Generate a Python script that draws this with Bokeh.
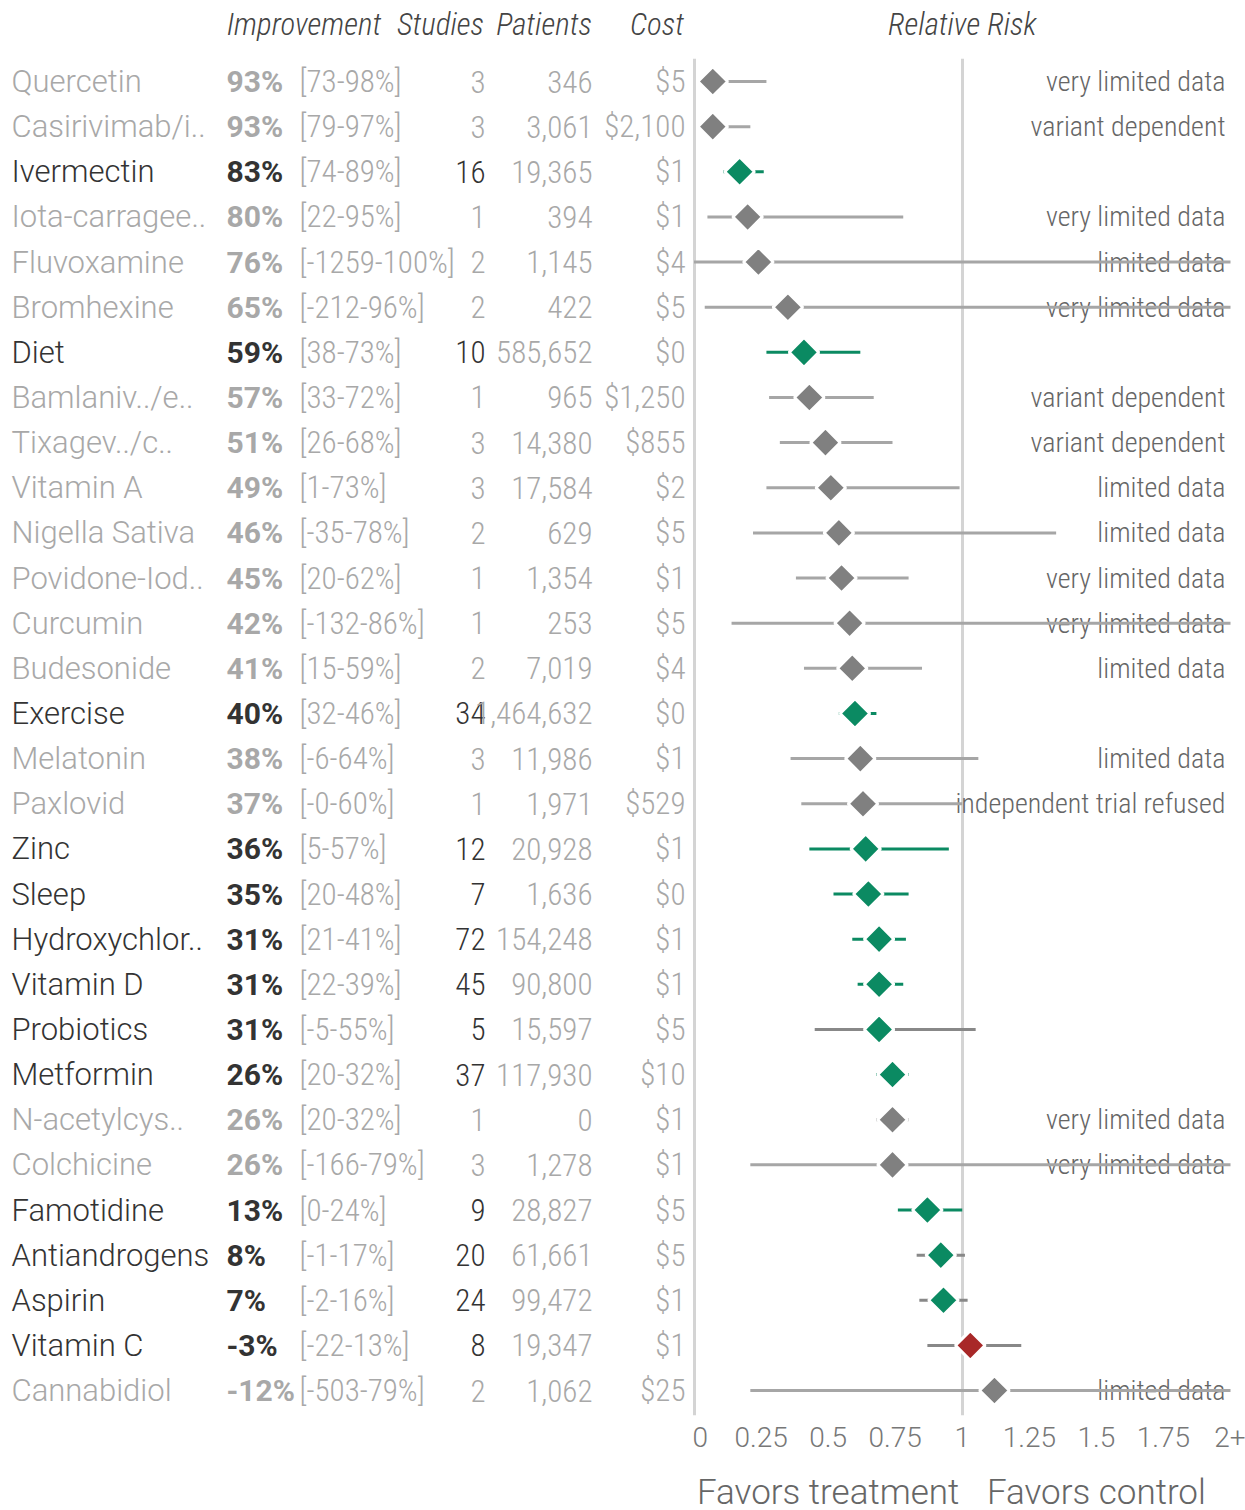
from bokeh.plotting import figure
from bokeh.layouts import row
from bokeh.models import ColumnDataSource, Range1d, FixedTicker, LinearAxis
from bokeh.core.properties import value
from bokeh.embed import file_html
from bokeh.resources import INLINE

# ---- data -------------------------------------------------------------
names = ["Quercetin", "Casirivimab/i..", "Ivermectin", "Iota-carragee..", "Fluvoxamine",
         "Bromhexine", "Diet", "Bamlaniv../e..", "Tixagev../c..", "Vitamin A",
         "Nigella Sativa", "Povidone-Iod..", "Curcumin", "Budesonide", "Exercise",
         "Melatonin", "Paxlovid", "Zinc", "Sleep", "Hydroxychlor..",
         "Vitamin D", "Probiotics", "Metformin", "N-acetylcys..", "Colchicine",
         "Famotidine", "Antiandrogens", "Aspirin", "Vitamin C", "Cannabidiol"]
improvement = [93, 93, 83, 80, 76, 65, 59, 57, 51, 49, 46, 45, 42, 41, 40,
               38, 37, 36, 35, 31, 31, 31, 26, 26, 26, 13, 8, 7, -3, -12]
ci_low = [73, 79, 74, 22, -1259, -212, 38, 33, 26, 1, -35, 20, -132, 15, 32,
          -6, -0.0, 5, 20, 21, 22, -5, 20, 20, -166, 0, -1, -2, -22, -503]
ci_high = [98, 97, 89, 95, 100, 96, 73, 72, 68, 73, 78, 62, 86, 59, 46,
           64, 60, 57, 48, 41, 39, 55, 32, 32, 79, 24, 17, 16, 13, 79]
studies = [3, 3, 16, 1, 2, 2, 10, 1, 3, 3, 2, 1, 1, 2, 34,
           3, 1, 12, 7, 72, 45, 5, 37, 1, 3, 9, 20, 24, 8, 2]
patients = [346, 3061, 19365, 394, 1145, 422, 585652, 965, 14380, 17584, 629, 1354, 253, 7019, 1464632,
            11986, 1971, 20928, 1636, 154248, 90800, 15597, 117930, 0, 1278, 28827, 61661, 99472, 19347, 1062]
cost = [5, 2100, 1, 1, 4, 5, 0, 1250, 855, 2, 5, 1, 5, 4, 0,
        1, 529, 1, 0, 1, 1, 5, 10, 1, 1, 5, 5, 1, 1, 25]
notes = ["very limited data", "variant dependent", "", "very limited data", "limited data",
         "very limited data", "", "variant dependent", "variant dependent", "limited data",
         "limited data", "very limited data", "very limited data", "limited data", "",
         "limited data", "independent trial refused", "", "", "",
         "", "", "", "very limited data", "very limited data",
         "", "", "", "", "limited data"]

headers = ["Improvement", "Studies", "Patients", "Cost"]
header_x = [303.5, 440, 543.5, 656.5]     # column header centres (table px)
tick_values = [0, 0.25, 0.5, 0.75, 1, 1.25, 1.5, 1.75, 2]
tick_labels = ["0", "0.25", "0.5", "0.75", "1", "1.25", "1.5", "1.75", "2+"]
favors = ["Favors treatment", "Favors control"]
favors_at = [0.5, 1.5]

# ---- styling ------------------------------------------------------------
COND = "Roboto Condensed Light, Roboto Light, Roboto"   # numbers, notes, headers
PLAIN = "Roboto Light, Roboto"                           # names, ticks, footer
BOLD = "Roboto"
LIGHT = "#a8a8a8"
DARK = "#333333"
GREEN = "#0b8a62"
RED = "#a82828"
GREY_MARK = "#808080"
HEAD = "#444444"

W, H = 1245, 1510
TABLE_W = 692
PITCH = 45.14          # pixels per row
ROW0_PX = 81           # centre of the first row
FRAME_TOP = 58
FRAME_BOTTOM = 1415
FRAME_H = FRAME_BOTTOM - FRAME_TOP
BOTTOM_PAD = H - FRAME_BOTTOM

def px_to_row(py):
    return (py - ROW0_PX) / PITCH

n = len(names)
idx = list(range(n))

highlight = [nt == "" for nt in notes]
rr = [1 - v / 100 for v in improvement]
rr_lo = [1 - v / 100 for v in ci_high]
rr_hi = [1 - v / 100 for v in ci_low]

name_color = [DARK if h else LIGHT for h in highlight]
ci_text = [f"[{a:g}-{b:g}%]" for a, b in zip(ci_low, ci_high)]

table = ColumnDataSource(dict(
    y=idx, name=names, name_color=name_color,
    imp=[f"{v}%" for v in improvement], ci=ci_text,
    studies=[str(s) for s in studies],
    patients=[f"{p:,}" for p in patients],
    cost=[f"${c:,}" for c in cost],
))

mark_color = []
line_color = []
for h, r, hi in zip(highlight, rr, rr_hi):
    if not h:
        mark_color.append(GREY_MARK)
        line_color.append("#a6a6a6")
    else:
        mark_color.append(GREEN if r < 1 else RED)
        line_color.append(GREEN if hi <= 1 else "#888888")

forest = ColumnDataSource(dict(
    y=idx, rr=rr, lo=rr_lo, hi=rr_hi, note=notes,
    mark_color=mark_color, line_color=line_color,
))

# shared vertical mapping: both frames span FRAME_TOP..FRAME_BOTTOM
y_top = px_to_row(FRAME_TOP)
y_bottom = px_to_row(FRAME_BOTTOM)


def bare_axis(axis):
    axis.axis_line_color = None
    axis.major_tick_line_color = None
    axis.minor_tick_line_color = None
    axis.major_tick_out = 0
    axis.major_tick_in = 0
    return axis


def header_axis(ticks, labels, standoff):
    axis = bare_axis(LinearAxis(ticker=FixedTicker(ticks=ticks)))
    axis.major_label_overrides = dict(zip(ticks, labels))
    axis.major_label_standoff = standoff
    axis.major_label_text_font = COND
    axis.major_label_text_font_style = "italic"
    axis.major_label_text_font_size = "31px"
    axis.major_label_text_color = HEAD
    return axis


HEADER_STANDOFF = 16

# ---- left table -----------------------------------------------------------
p1 = figure(frame_width=TABLE_W, frame_height=FRAME_H,
            x_range=Range1d(0, TABLE_W), y_range=Range1d(y_bottom, y_top),
            min_border_left=0, min_border_right=0,
            min_border_top=FRAME_TOP, min_border_bottom=BOTTOM_PAD,
            x_axis_location=None, y_axis_location=None,
            output_backend="svg", toolbar_location=None)
p1.grid.visible = False
p1.outline_line_color = None
p1.add_layout(header_axis(header_x, headers, HEADER_STANDOFF), "above")

common = dict(source=table, y="y", text_baseline="middle")
p1.text(x=11, text="name", text_color="name_color", text_align="left",
        text_font=value(PLAIN), text_font_size="31px", **common)
p1.text(x=226, text="imp", text_color="name_color", text_align="left",
        text_font=value(BOLD), text_font_style="bold", text_font_size="30px", **common)
p1.text(x=299, text="ci", text_color=LIGHT, text_align="left",
        text_font=value(COND), text_font_size="31px", **common)
p1.text(x=485, text="studies", text_color="name_color", text_align="right",
        text_font=value(COND), text_font_size="31px", **common)
p1.text(x=592, text="patients", text_color=LIGHT, text_align="right",
        text_font=value(COND), text_font_size="31px", **common)
p1.text(x=685, text="cost", text_color=LIGHT, text_align="right",
        text_font=value(COND), text_font_size="31px", **common)

# ---- right forest plot ----------------------------------------------------
p2 = figure(frame_width=538, frame_height=FRAME_H,
            x_range=Range1d(-0.0056, 2.0), y_range=Range1d(y_bottom, y_top),
            min_border_left=0, min_border_right=W - TABLE_W - 538,
            min_border_top=FRAME_TOP, min_border_bottom=BOTTOM_PAD,
            x_axis_location=None, y_axis_location=None,
            output_backend="svg", toolbar_location=None)
p2.outline_line_color = None
p2.add_layout(header_axis([1], ["Relative Risk"], HEADER_STANDOFF), "above")

ticks_axis = bare_axis(LinearAxis(ticker=FixedTicker(ticks=tick_values)))
ticks_axis.major_label_overrides = dict(zip(tick_values, tick_labels))
ticks_axis.major_label_standoff = 11
ticks_axis.major_label_text_font = PLAIN
ticks_axis.major_label_text_font_size = "28px"
ticks_axis.major_label_text_color = "#777777"
p2.add_layout(ticks_axis, "below")

favors_axis = bare_axis(LinearAxis(ticker=FixedTicker(ticks=favors_at)))
favors_axis.major_label_overrides = dict(zip(favors_at, favors))
favors_axis.major_label_standoff = 22
favors_axis.major_label_text_font = PLAIN
favors_axis.major_label_text_font_size = "35px"
favors_axis.major_label_text_color = "#666666"
p2.add_layout(favors_axis, "below")

# reference lines at RR = 0 and RR = 1
p2.xgrid.ticker = FixedTicker(ticks=[0, 1])
p2.xgrid.grid_line_color = "#d4d4d4"
p2.xgrid.grid_line_width = 3
p2.ygrid.visible = False

p2.text(x=2.0 - 5 / 269, y="y", text="note", source=forest, text_align="right",
        text_baseline="middle", text_font=value(COND), text_font_size="28px",
        text_color="#666666")
p2.segment(x0="lo", x1="hi", y0="y", y1="y", line_color="line_color",
           line_width=3, source=forest)
p2.scatter(x="rr", y="y", marker="square", angle=0.785398, size=21,
           fill_color="mark_color", line_color="white", line_width=3, source=forest)

layout = row(p1, p2, spacing=0)

open("out.html", "w").write(file_html(layout, INLINE))
